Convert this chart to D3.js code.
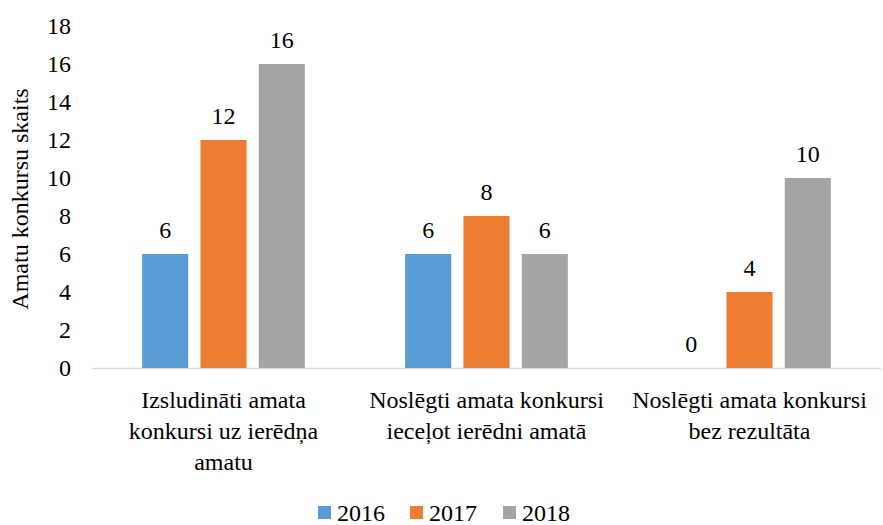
<!DOCTYPE html>
<html><head><meta charset="utf-8">
<script src="https://cdn.jsdelivr.net/npm/d3@7"></script>
</head><body style="margin:0;background:#fff">
<script>
const categories = [
  ["Izsludināti amata", "konkursi uz ierēdņa", "amatu"],
  ["Noslēgti amata konkursi", "ieceļot ierēdni amatā"],
  ["Noslēgti amata konkursi", "bez rezultāta"]
];
const seriesNames = ["2016", "2017", "2018"];
const values2016 = [6, 6, 0];
const values2017 = [12, 8, 4];
const values2018 = [16, 6, 10];
const colors = ["#5B9BD5", "#ED7D31", "#A5A5A5"];
const yTicks = [0, 2, 4, 6, 8, 10, 12, 14, 16, 18];
const yTitle = "Amatu konkursu skaits";

const W = 883, H = 525;
const fs = 24;
const ff = "Liberation Serif";
const svg = d3.select("body").append("svg").attr("width", W).attr("height", H)
  .style("display", "block");
const series = [values2016, values2017, values2018];

const x0 = d3.scaleBand().domain(d3.range(categories.length)).range([92, 881]).padding(0);
const x1 = d3.scaleBand().domain(d3.range(seriesNames.length)).range([0, x0.bandwidth()]).paddingInner(0.21).paddingOuter(0.86);
const y = d3.scaleLinear().domain([0, 18]).range([368, 26]);

function addText(x, yy, str, anchor) {
  return svg.append("text").attr("x", x).attr("y", yy)
    .attr("text-anchor", anchor || "middle").attr("font-size", fs)
    .attr("font-family", ff).style("font-family", ff).attr("fill", "#000").text(str);
}

// axis line
svg.append("line").attr("x1", 92).attr("x2", 881).attr("y1", y(0)+0.5).attr("y2", y(0)+0.5)
  .attr("stroke", "#d9d9d9").attr("stroke-width", 1.3);

// y ticks
yTicks.forEach(t => addText(71, y(t) + 8, t, "end"));

// y title
addText(0, 0, yTitle).attr("transform", `translate(28,${y(9)+2}) rotate(-90)`);

// bars + value labels
categories.forEach((c, ci) => {
  series.forEach((vals, si) => {
    const v = vals[ci];
    const bx = x0(ci) + x1(si);
    svg.append("rect").attr("x", bx).attr("width", x1.bandwidth())
      .attr("y", y(v)).attr("height", y(0) - y(v)).attr("fill", colors[si]);
    addText(bx + x1.bandwidth()/2, y(v) - 16, v);
  });
});

// category labels
categories.forEach((lines, ci) => {
  lines.forEach((l, k) => addText(x0(ci) + x0.bandwidth()/2, 408 + k*31, l));
});

// legend
const legX = [318, 410, 503];
seriesNames.forEach((s, i) => {
  svg.append("rect").attr("x", legX[i]).attr("y", 506).attr("width", 13).attr("height", 13).attr("fill", colors[i]);
  addText(legX[i] + 19, 521, s, "start");
});
</script>
</body></html>
